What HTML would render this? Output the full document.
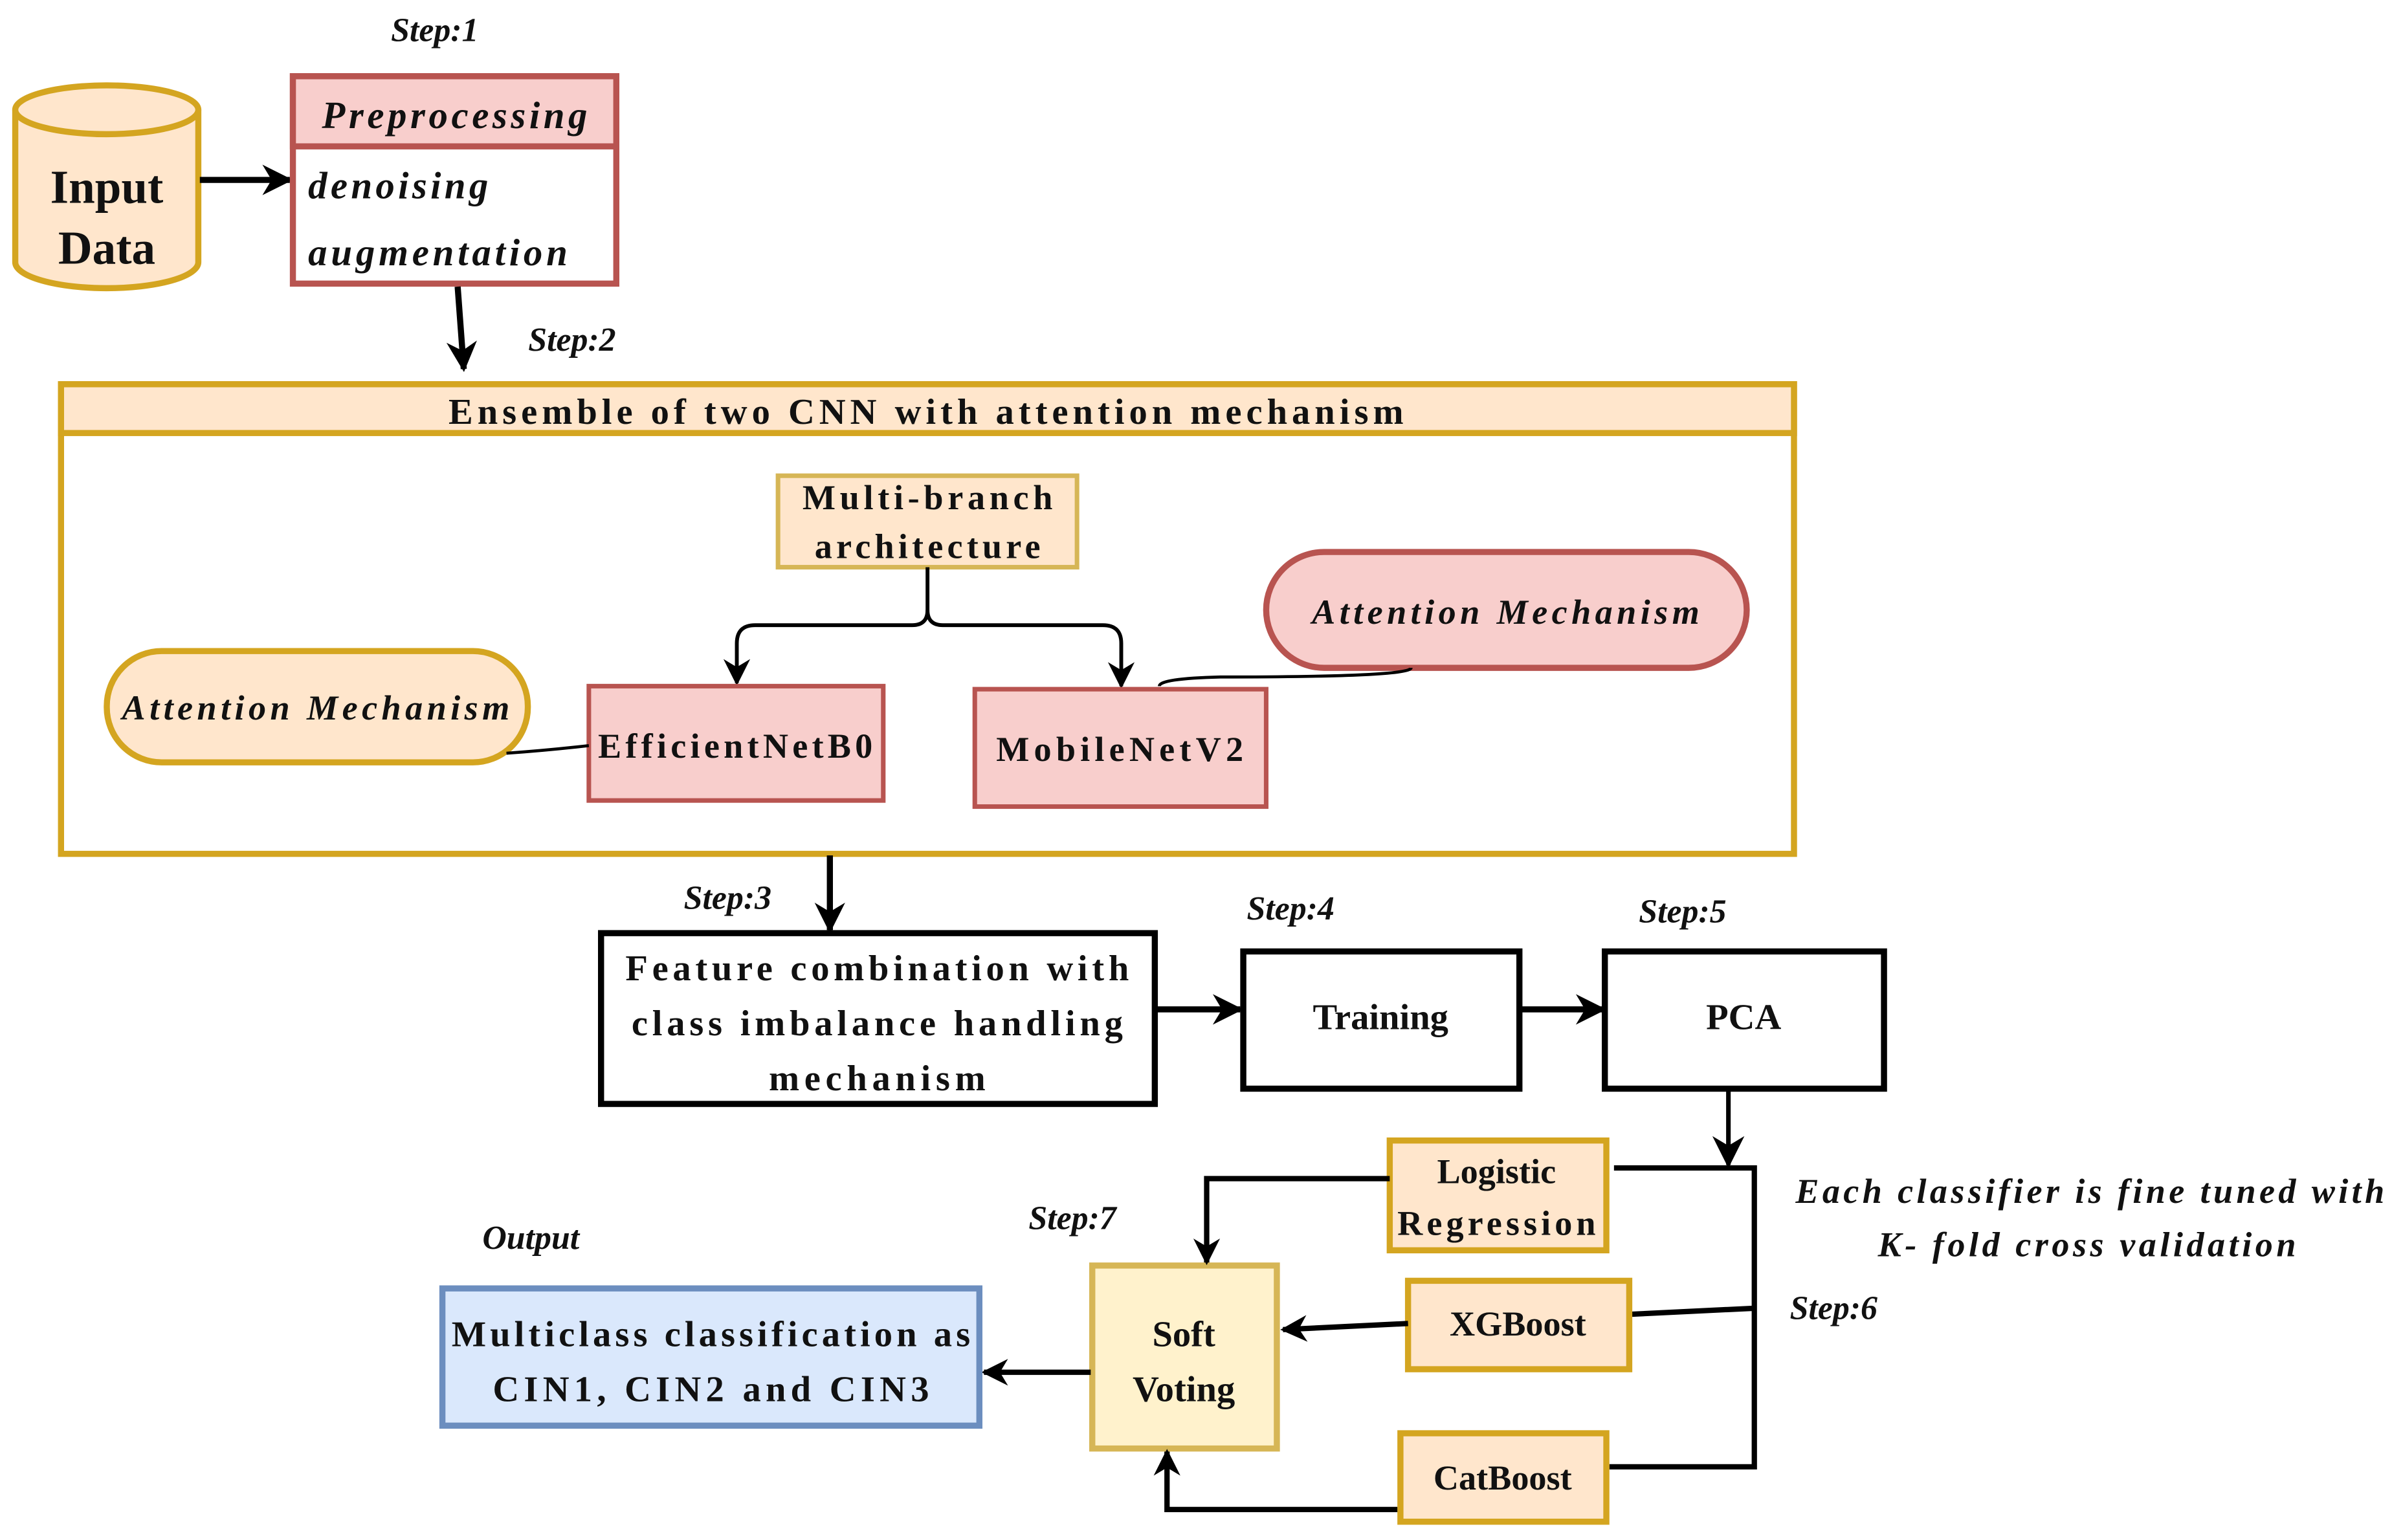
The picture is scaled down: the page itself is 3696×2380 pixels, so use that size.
<!DOCTYPE html>
<html><head><meta charset="utf-8"><style>
html,body{margin:0;padding:0;background:#fff;}
svg{display:block;}
text{font-family:"Liberation Serif","DejaVu Serif",serif;font-weight:bold;fill:#111;}
.i{font-style:italic;}
</style></head><body>
<svg width="3696" height="2380" viewBox="0 0 1568 1010" preserveAspectRatio="none" xmlns="http://www.w3.org/2000/svg" font-family="Liberation Serif, serif">
<defs>
<marker id="a" viewBox="0 0 10 10" refX="9" refY="5" markerWidth="5" markerHeight="5" orient="auto"><path d="M0,0 L10,5 L0,10 L3,5 z" fill="#000"/></marker>
<marker id="b" viewBox="0 0 10 10" refX="9" refY="5" markerWidth="7" markerHeight="7" orient="auto"><path d="M0,0 L10,5 L0,10 L3,5 z" fill="#000"/></marker>
</defs>
<rect width="1568" height="1010" fill="#fff"/>
<path d="M10,72 L10,172 A60,17 0 0 0 130,172 L130,72" fill="#ffe6cc" stroke="#d4a520" stroke-width="4"/>
<ellipse cx="70" cy="72" rx="60" ry="16" fill="#ffe6cc" stroke="#d4a520" stroke-width="4"/>
<text x="70" y="133" font-size="31" text-anchor="middle">Input</text>
<text x="70" y="173" font-size="31" text-anchor="middle">Data</text>
<line x1="131" y1="118" x2="190" y2="118" stroke="#000" stroke-width="4" marker-end="url(#a)"/>
<text x="285" y="27" font-size="22" class="i" text-anchor="middle">Step:1</text>
<rect x="192" y="50" width="212" height="136" fill="#fff" stroke="#b85450" stroke-width="4"/>
<rect x="192" y="50" width="212" height="46" fill="#f8cecc" stroke="#b85450" stroke-width="4"/>
<text x="298" y="84" font-size="25" class="i" text-anchor="middle" textLength="174">Preprocessing</text>
<text x="202" y="130" font-size="25" class="i" textLength="118">denoising</text>
<text x="202" y="174" font-size="25" class="i" textLength="170">augmentation</text>
<line x1="300" y1="188" x2="304" y2="242" stroke="#000" stroke-width="4" marker-end="url(#a)"/>
<text x="375" y="230" font-size="22" class="i" text-anchor="middle">Step:2</text>
<rect x="40" y="252" width="1136" height="308" fill="#fff" stroke="#d4a520" stroke-width="4"/>
<rect x="40" y="252" width="1136" height="32" fill="#ffe6cc" stroke="#d4a520" stroke-width="4"/>
<text x="607" y="278" font-size="24" text-anchor="middle" textLength="626">Ensemble of two CNN with attention mechanism</text>
<rect x="510" y="312" width="196" height="60" fill="#ffe6cc" stroke="#d6b656" stroke-width="3"/>
<text x="608" y="334" font-size="23" text-anchor="middle" textLength="164">Multi-branch</text>
<text x="608" y="366" font-size="23" text-anchor="middle" textLength="148">architecture</text>
<path d="M608,372 L608,400 Q608,410 598,410 L495,410 Q483,410 483,422 L483,448" fill="none" stroke="#000" stroke-width="2.5" marker-end="url(#b)"/>
<path d="M608,400 Q608,410 618,410 L723,410 Q735,410 735,422 L735,450" fill="none" stroke="#000" stroke-width="2.5" marker-end="url(#b)"/>
<rect x="386" y="450" width="193" height="75" fill="#f8cecc" stroke="#b85450" stroke-width="3"/>
<text x="482" y="497" font-size="23" text-anchor="middle" textLength="180">EfficientNetB0</text>
<rect x="639" y="452" width="191" height="77" fill="#f8cecc" stroke="#b85450" stroke-width="3"/>
<text x="734" y="499" font-size="23" text-anchor="middle" textLength="162">MobileNetV2</text>
<rect x="70" y="427" width="276" height="73" rx="36" fill="#ffe6cc" stroke="#d4a520" stroke-width="4"/>
<text x="207" y="472" font-size="23" class="i" text-anchor="middle" textLength="254">Attention Mechanism</text>
<rect x="830" y="362" width="315" height="76" rx="38" fill="#f8cecc" stroke="#b85450" stroke-width="4"/>
<text x="987" y="409" font-size="23" class="i" text-anchor="middle" textLength="254">Attention Mechanism</text>
<path d="M332,494 Q360,492 386,489" fill="none" stroke="#000" stroke-width="2"/>
<path d="M925,438 Q925,444 800,444 Q760,445 760,450" fill="none" stroke="#000" stroke-width="2"/>
<line x1="544" y1="561" x2="544" y2="610" stroke="#000" stroke-width="4" marker-end="url(#a)"/>
<text x="477" y="596" font-size="22" class="i" text-anchor="middle">Step:3</text>
<rect x="394" y="612" width="363" height="112" fill="#fff" stroke="#000" stroke-width="4"/>
<text x="575" y="643" font-size="24" text-anchor="middle" textLength="330">Feature combination with</text>
<text x="575" y="679" font-size="24" text-anchor="middle" textLength="322">class imbalance handling</text>
<text x="575" y="715" font-size="24" text-anchor="middle" textLength="142">mechanism</text>
<line x1="757" y1="662" x2="813" y2="662" stroke="#000" stroke-width="4" marker-end="url(#a)"/>
<text x="846" y="603" font-size="22" class="i" text-anchor="middle">Step:4</text>
<rect x="815" y="624" width="181" height="90" fill="#fff" stroke="#000" stroke-width="4"/>
<text x="905" y="675" font-size="24" text-anchor="middle">Training</text>
<line x1="996" y1="662" x2="1051" y2="662" stroke="#000" stroke-width="4" marker-end="url(#a)"/>
<text x="1103" y="605" font-size="22" class="i" text-anchor="middle">Step:5</text>
<rect x="1052" y="624" width="183" height="90" fill="#fff" stroke="#000" stroke-width="4"/>
<text x="1143" y="675" font-size="24" text-anchor="middle">PCA</text>
<line x1="1133" y1="714" x2="1133" y2="764" stroke="#000" stroke-width="3" marker-end="url(#b)"/>
<path d="M1058,766 L1150,766 L1150,962 L1055,962" fill="none" stroke="#000" stroke-width="3.5"/>
<line x1="1068" y1="862" x2="1150" y2="858" stroke="#000" stroke-width="3.5"/>
<text x="1202" y="865" font-size="22" class="i" text-anchor="middle">Step:6</text>
<text x="1370" y="789" font-size="23" class="i" text-anchor="middle" textLength="386">Each classifier is fine tuned with</text>
<text x="1368" y="824" font-size="23" class="i" text-anchor="middle" textLength="274">K- fold cross validation</text>
<rect x="911" y="748" width="142" height="72" fill="#ffe6cc" stroke="#d4a520" stroke-width="4"/>
<text x="981" y="776" font-size="23" text-anchor="middle">Logistic</text>
<text x="981" y="810" font-size="23" text-anchor="middle" textLength="130">Regression</text>
<rect x="923" y="840" width="145" height="58" fill="#ffe6cc" stroke="#d4a520" stroke-width="4"/>
<text x="995" y="876" font-size="23" text-anchor="middle">XGBoost</text>
<rect x="918" y="940" width="135" height="58" fill="#ffe6cc" stroke="#d4a520" stroke-width="4"/>
<text x="985" y="977" font-size="23" text-anchor="middle">CatBoost</text>
<rect x="716" y="830" width="121" height="120" fill="#fff2cc" stroke="#d6b656" stroke-width="4"/>
<text x="776" y="883" font-size="24" text-anchor="middle">Soft</text>
<text x="776" y="919" font-size="24" text-anchor="middle">Voting</text>
<path d="M911,773 L791,773 L791,828" fill="none" stroke="#000" stroke-width="3.5" marker-end="url(#a)"/>
<line x1="923" y1="868" x2="841" y2="872" stroke="#000" stroke-width="3.5" marker-end="url(#a)"/>
<path d="M916,990 L765,990 L765,952" fill="none" stroke="#000" stroke-width="3.5" marker-end="url(#a)"/>
<line x1="715" y1="900" x2="645" y2="900" stroke="#000" stroke-width="3.5" marker-end="url(#a)"/>
<text x="703" y="806" font-size="22" class="i" text-anchor="middle">Step:7</text>
<text x="348" y="819" font-size="22" class="i" text-anchor="middle">Output</text>
<rect x="290" y="845" width="352" height="90" fill="#dae8fc" stroke="#6c8ebf" stroke-width="4"/>
<text x="466" y="883" font-size="24" text-anchor="middle" textLength="340">Multiclass classification as</text>
<text x="466" y="919" font-size="24" text-anchor="middle" textLength="286">CIN1, CIN2 and CIN3</text>
</svg>
</body></html>
